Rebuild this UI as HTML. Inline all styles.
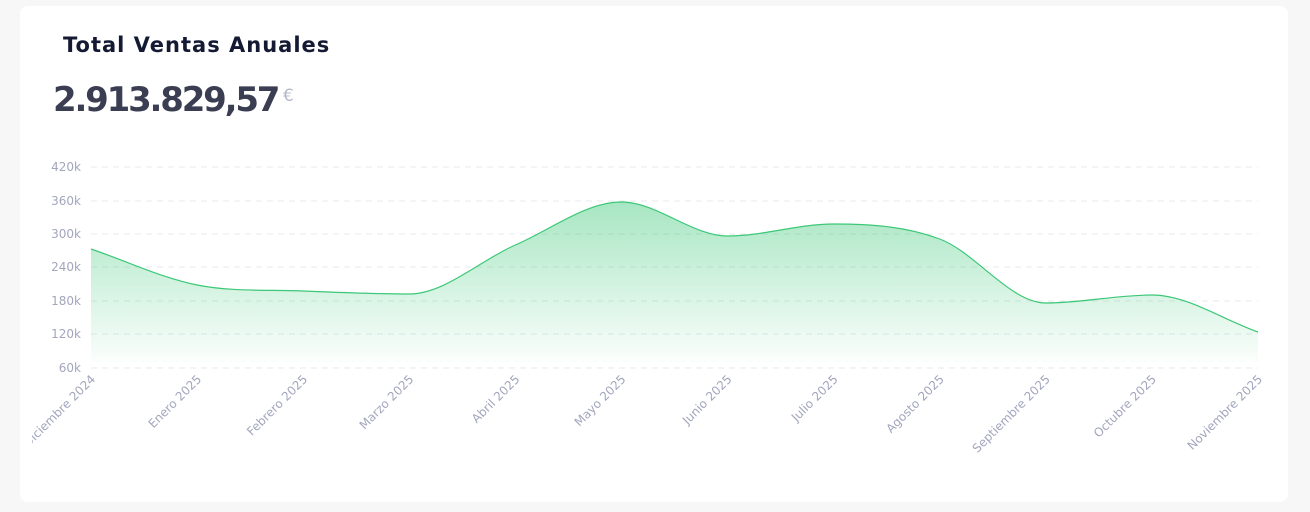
<!DOCTYPE html>
<html><head><meta charset="utf-8"><style>
body{margin:0;width:1310px;height:512px;background:#f7f7f7;font-family:"DejaVu Sans","Liberation Sans",sans-serif;overflow:hidden}
.card{position:absolute;left:20px;top:6px;width:1268px;height:496px;background:#fff;border-radius:8px}
.t{position:absolute;left:63px;top:33px;font-size:21px;font-weight:bold;color:#141a33;letter-spacing:1px}
.n{position:absolute;left:53px;top:80px;font-size:34px;font-weight:bold;color:#3b3e52;letter-spacing:-2.2px}
.e{position:absolute;left:283px;top:86px;font-size:17px;color:#b5b8c8}
svg{position:absolute;left:0;top:0}
</style></head><body>
<div class="card"></div>
<div class="t">Total Ventas Anuales</div>
<div class="n">2.913.829,57</div>
<div class="e">€</div>
<svg width="1310" height="512" id="s">
<defs><linearGradient id="g" x1="0" y1="0" x2="0" y2="1"><stop offset="0" stop-color="#3cc878" stop-opacity="0.45"/><stop offset="1" stop-color="#3cc878" stop-opacity="0.02"/></linearGradient>
<clipPath id="c"><rect x="32" y="0" width="1278" height="512"/></clipPath></defs>
<g stroke="#e6e8ee" stroke-dasharray="6,5" stroke-width="1">
<line x1="91" x2="1258" y1="167" y2="167"/><line x1="91" x2="1258" y1="201" y2="201"/><line x1="91" x2="1258" y1="234" y2="234"/><line x1="91" x2="1258" y1="267" y2="267"/><line x1="91" x2="1258" y1="301" y2="301"/><line x1="91" x2="1258" y1="334" y2="334"/><line x1="91" x2="1258" y1="368" y2="368"/></g>
<g font-size="12" fill="#a3a6bd" text-anchor="end" font-family="DejaVu Sans,sans-serif">
<text x="81" y="171">420k</text><text x="81" y="205">360k</text><text x="81" y="238">300k</text><text x="81" y="271">240k</text><text x="81" y="305">180k</text><text x="81" y="338">120k</text><text x="81" y="372">60k</text></g>
<path id="a" fill="url(#g)"/><path id="l" fill="none" stroke="#3cc878" stroke-width="1.2"/>
<g id="xl" clip-path="url(#c)" font-size="12" fill="#a3a6bd" text-anchor="end" font-family="DejaVu Sans,sans-serif"></g>
</svg>
<script>
var ys=[249,285,291,294,245,202,236,224,239,303,295,332],xs=[];
for(var i=0;i<12;i++)xs.push(91+i*106.09);
var n=12,d=[],m=[];
for(i=0;i<n-1;i++)d.push((ys[i+1]-ys[i])/106.09);
m[0]=d[0];m[n-1]=d[n-2];
for(i=1;i<n-1;i++){m[i]=(d[i-1]*d[i]<=0)?0:(d[i-1]+d[i])/2;}
var p="M"+xs[0]+","+ys[0];
for(i=0;i<n-1;i++){var h=106.09/3;p+=" C"+(xs[i]+h)+","+(ys[i]+m[i]*h)+" "+(xs[i+1]-h)+","+(ys[i+1]-m[i+1]*h)+" "+xs[i+1]+","+ys[i+1];}
document.getElementById('l').setAttribute('d',p);
document.getElementById('a').setAttribute('d',p+" L1258,362 L91,362 Z");
var lb=["Diciembre 2024","Enero 2025","Febrero 2025","Marzo 2025","Abril 2025","Mayo 2025","Junio 2025","Julio 2025","Agosto 2025","Septiembre 2025","Octubre 2025","Noviembre 2025"],s="";
for(i=0;i<12;i++){s+='<text transform="translate('+(xs[i]+5)+',380) rotate(-45)">'+lb[i]+'</text>';}
document.getElementById('xl').innerHTML=s;
</script>
</body></html>
